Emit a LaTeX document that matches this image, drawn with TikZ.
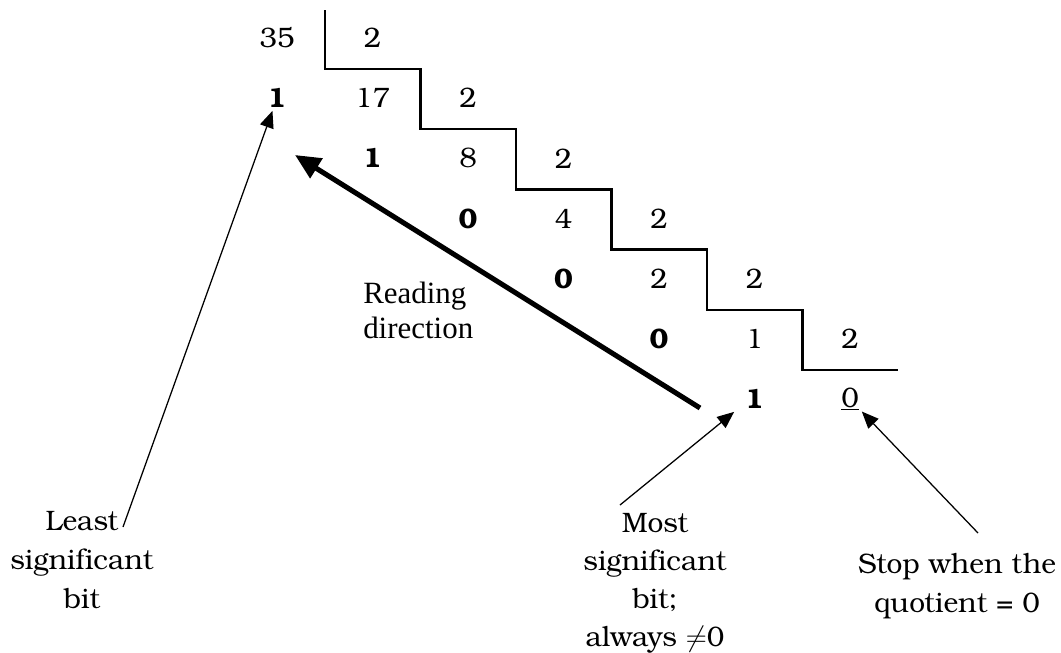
\documentclass[tikz,border=0pt]{standalone}
\usepackage{fontspec}
\setmainfont{texgyrebonum}[Extension=.otf, UprightFont=*-regular, BoldFont=*-bold, ItalicFont=*-italic, BoldItalicFont=*-bolditalic, Ligatures=NoCommon]
\newfontfamily\timesfont{Liberation Serif}
\usepackage{tikz}
\usetikzlibrary{arrows.meta, positioning}

\begin{document}
\begin{tikzpicture}[
  node distance=1.505cm and 2.3875cm, on grid,
  font=\fontsize{20}{28}\selectfont,
  num/.style={inner sep=2pt},
  bit/.style={inner sep=2pt, font=\fontsize{20}{28}\selectfont\bfseries},
  note/.style={align=center, inner sep=0pt},
  rule/.style={line width=1.7pt},
  pointer/.style={line width=0.9pt, -{Triangle[length=12pt, width=10pt]}},
  bigarrow/.style={line width=3.6pt, -{Triangle[length=18pt, width=16pt]}}
]
\useasboundingbox (0,0) rectangle (26.525,-16.3);

% Division ladder
\node[num] (q0) at (6.925,-0.95) {35};
\node[num, right=of q0] (d0) {2};
\node[num, below=of d0] (q1) {17};
\node[bit, left=of q1] (r1) {1};
\node[num, right=of q1] (d1) {2};
\node[num, below=of d1] (q2) {8};
\node[bit, left=of q2] (r2) {1};
\node[num, right=of q2] (d2) {2};
\node[num, below=of d2] (q3) {4};
\node[bit, left=of q3] (r3) {0};
\node[num, right=of q3] (d3) {2};
\node[num, below=of d3] (q4) {2};
\node[bit, left=of q4] (r4) {0};
\node[num, right=of q4] (d4) {2};
\node[num, below=of d4] (q5) {1};
\node[bit, left=of q5] (r5) {0};
\node[num, right=of q5] (d5) {2};
\node[num, below=of d5] (q6) {\underline{0}};
\node[bit, left=of q6] (r6) {1};

% Staircase under the divisors
\coordinate (stair) at (8.125,-0.25);
\draw[rule] (stair) -- ++(0,-1.475) -- ++(2.3875,0)
  -- ++(0,-1.505) -- ++(2.3875,0) -- ++(0,-1.505) -- ++(2.3875,0)
  -- ++(0,-1.505) -- ++(2.3875,0) -- ++(0,-1.505) -- ++(2.3875,0)
  -- ++(0,-1.505) -- ++(2.3875,0);

% Notes
\node[note, align=left, anchor=west, font=\timesfont\fontsize{22}{25}\selectfont] (reading) at (9.075,-7.75) {Reading\\direction};
\node[note] (lsb) at (2.05,-14.0) {Least\\significant\\bit};
\node[note, font=\fontsize{20}{27}\selectfont] (msb) at (16.375,-14.58) {Most\\significant\\bit;\\always $\neq$0};
\node[note] (stop) at (23.925,-14.65) {Stop when the\\quotient = 0};

% Arrows
\coordinate (readtail) at (17.5,-10.2);
\coordinate (readhead) at (7.375,-3.875);
\coordinate (lsbtail) at (3.075,-13.175);
\coordinate (msbtail) at (15.5,-12.625);
\coordinate (stoptail) at (24.45,-13.325);
\draw[bigarrow] (readtail) -- (readhead); % bits are read bottom-up
\draw[pointer] (lsbtail) -- (r1);
\draw[pointer] (msbtail) -- ([xshift=-2mm]r6.south west);
\draw[pointer] (stoptail) -- (q6);

\end{tikzpicture}
\end{document}
